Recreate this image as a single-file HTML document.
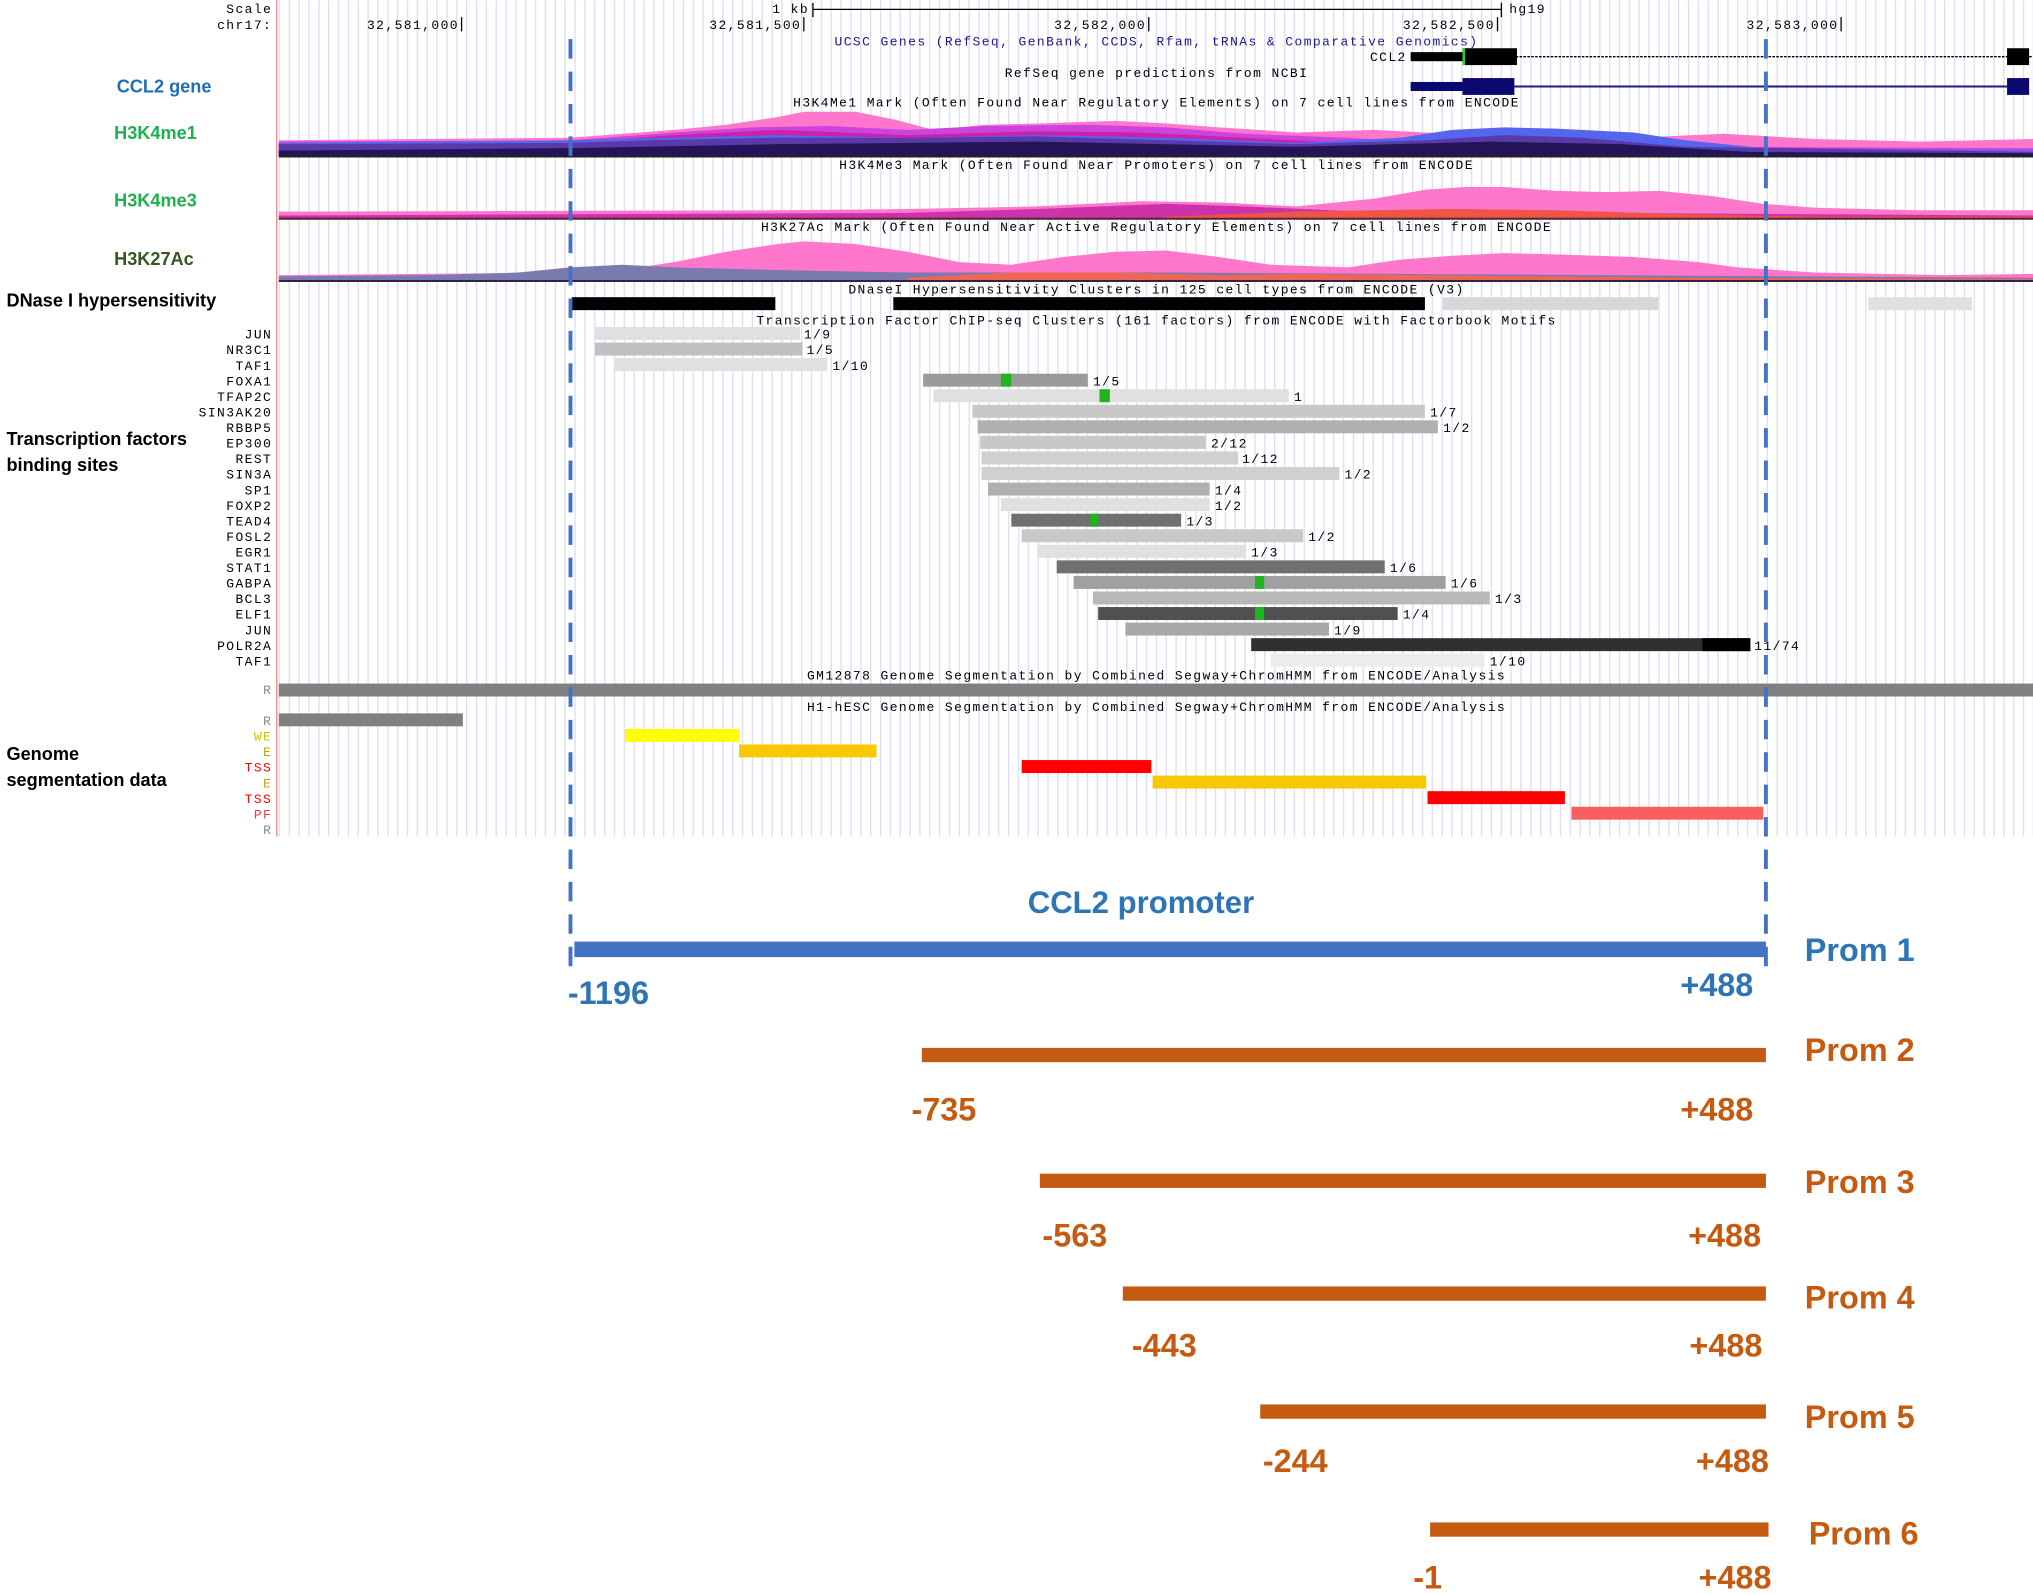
<!DOCTYPE html>
<html><head><meta charset="utf-8"><style>
html,body{margin:0;padding:0;background:#fff;}
svg{display:block;}
.m{font-family:"Liberation Mono",monospace;font-size:10px;fill:#000;letter-spacing:1.1px;}
.ml{font-family:"Liberation Mono",monospace;font-size:10px;fill:#000;text-anchor:end;letter-spacing:1.1px;}
.c{text-anchor:middle;}
.lab{font-family:"Liberation Sans",sans-serif;font-size:14px;font-weight:bold;}
.big{font-family:"Liberation Sans",sans-serif;font-weight:bold;font-size:25px;}
</style></head><body>
<svg width="2033" height="1594" viewBox="0 0 1568 1229" xmlns="http://www.w3.org/2000/svg">
<defs>
<pattern id="g" x="215" y="0" width="7.6" height="10" patternUnits="userSpaceOnUse">
<line x1="0.5" y1="0" x2="0.5" y2="10" stroke="#dcdcf4" stroke-width="1"/>
</pattern>
</defs>
<rect width="1568" height="1229" fill="#fff"/>
<rect x="215" y="0" width="1353" height="645" fill="url(#g)"/>
<line x1="213.5" y1="0" x2="213.5" y2="645" stroke="#f08080" stroke-width="1"/>

<text class="ml" x="210" y="10">Scale</text>
<text class="ml" x="210" y="22">chr17:</text>
<text class="ml" x="354" y="22">32,581,000</text><line x1="356" y1="13" x2="356" y2="24" stroke="#000"/>
<text class="ml" x="618" y="22">32,581,500</text><line x1="620" y1="13" x2="620" y2="24" stroke="#000"/>
<text class="ml" x="884" y="22">32,582,000</text><line x1="886" y1="13" x2="886" y2="24" stroke="#000"/>
<text class="ml" x="1153" y="22">32,582,500</text><line x1="1155" y1="13" x2="1155" y2="24" stroke="#000"/>
<text class="ml" x="1418" y="22">32,583,000</text><line x1="1420" y1="13" x2="1420" y2="24" stroke="#000"/>
<text class="ml" x="624" y="10">1 kb</text>
<line x1="627" y1="7" x2="1158" y2="7" stroke="#000"/><line x1="627" y1="2" x2="627" y2="13" stroke="#000"/><line x1="1158" y1="2" x2="1158" y2="13" stroke="#000"/>
<text class="m" x="1164" y="10">hg19</text>
<text class="m c" x="892" y="35" style="fill:#1a1a8c">UCSC Genes (RefSeq, GenBank, CCDS, Rfam, tRNAs &amp; Comparative Genomics)</text>

<text class="ml" x="1085" y="47">CCL2</text>
<line x1="1088" y1="43.5" x2="1568" y2="43.5" stroke="#000" stroke-width="1" stroke-dasharray="2,1"/>
<rect x="1088" y="40" width="40" height="7" fill="#000"/>
<rect x="1128" y="37" width="42" height="13" fill="#000"/>
<rect x="1128" y="37" width="2" height="13" fill="#3c3"/>
<rect x="1548" y="37" width="17" height="13" fill="#000"/>
<text class="m c" x="892" y="59">RefSeq gene predictions from NCBI</text>
<line x1="1088" y1="66.5" x2="1560" y2="66.5" stroke="#1a1a8c" stroke-width="1.5"/>
<rect x="1088" y="63" width="40" height="7" fill="#0a0a6e"/>
<rect x="1128" y="60" width="40" height="13" fill="#0a0a6e"/>
<rect x="1548" y="60" width="17" height="13" fill="#0a0a6e"/>

<text class="m c" x="892" y="82">H3K4Me1 Mark (Often Found Near Regulatory Elements) on 7 cell lines from ENCODE</text>
<polygon fill="#6fe0c0" points="300,120 440,106 480,104 520,103 560,120"/>
<polygon fill="#ff77cc" points="215,108 440,106 520,100 560,96 600,90 620,86 660,86 690,92 720,100 760,96 800,95 860,93 900,95 940,98 1000,102 1060,100 1100,102 1150,104 1200,106 1260,106 1330,103 1400,107 1480,109 1568,107 1568,120 215,120"/>
<polygon fill="#cc44dd" points="215,109 440,108 520,102 580,98 640,97 700,100 760,97 840,96 900,98 960,103 1040,106 1100,110 1200,109 1300,113 1568,114 1568,120 215,120"/>
<polygon fill="#cc22aa" points="215,111 440,110 520,104 600,100 700,104 800,101 880,102 960,106 1040,110 1568,116 1568,120 215,120"/>
<polygon fill="#5566ee" points="215,110 440,108 520,106 600,104 700,106 800,104 900,106 1000,110 1080,106 1120,100 1160,98 1200,99 1260,102 1300,108 1360,114 1568,116 1568,120 215,120"/>
<polygon fill="#5a3aa8" points="215,111 440,110 500,108 600,106 700,106 800,105 900,108 1000,111 1100,108 1160,104 1220,106 1300,113 1568,117 1568,120 215,120"/>
<polygon fill="#24145a" points="215,116 440,114 600,111 800,109 1000,113 1150,109 1250,111 1350,117 1568,118 1568,120 215,120"/>
<line x1="215" y1="120.5" x2="1568" y2="120.5" stroke="#222" stroke-width="1.5"/>

<text class="m c" x="892" y="130">H3K4Me3 Mark (Often Found Near Promoters) on 7 cell lines from ENCODE</text>
<polygon fill="#ff77cc" points="215,163 600,162 700,161 800,159 880,155 940,156 1000,159 1060,153 1100,146 1130,144 1160,144 1200,147 1240,148 1280,147 1320,151 1360,157 1400,160 1480,162 1568,162 1568,168 215,168"/>
<polygon fill="#cc33aa" points="215,166 700,164 800,161 900,157 960,159 1050,163 1568,166 1568,168 215,168"/>
<polygon fill="#ee5544" points="900,167 1000,163 1120,161 1200,162 1300,165 1400,167 1568,167 1568,168 900,168"/>
<line x1="215" y1="168.5" x2="1568" y2="168.5" stroke="#552233" stroke-width="1.5"/>

<text class="m c" x="892" y="178">H3K27Ac Mark (Often Found Near Active Regulatory Elements) on 7 cell lines from ENCODE</text>
<polygon fill="#ff77cc" points="215,212 440,210 480,208 520,202 560,194 600,188 620,186 660,188 700,194 740,202 780,204 820,198 860,194 900,193 940,198 980,204 1040,206 1080,200 1120,197 1160,195 1200,196 1260,198 1310,202 1340,206 1400,210 1500,212 1568,211 1568,216 215,216"/>
<polygon fill="#7a7ab0" points="215,213 330,212 400,210 440,206 480,204 520,206 600,208 700,210 900,210 1568,214 1568,216 215,216"/>
<polygon fill="#ee6655" points="700,214 780,210 860,210 940,212 1000,211 1100,212 1200,213 1300,214 1568,215 1568,216 700,216"/>
<line x1="215" y1="216.5" x2="1568" y2="216.5" stroke="#332244" stroke-width="1.5"/>

<text class="m c" x="892" y="226">DNaseI Hypersensitivity Clusters in 125 cell types from ENCODE (V3)</text>
<rect x="441" y="229" width="157" height="10" fill="#000"/>
<rect x="689" y="229" width="410" height="10" fill="#000"/>
<rect x="1113" y="229" width="166" height="10" fill="#d8d8d8"/>
<rect x="1441" y="229" width="80" height="10" fill="#e0e0e0"/>

<text class="m c" x="892" y="250">Transcription Factor ChIP-seq Clusters (161 factors) from ENCODE with Factorbook Motifs</text>
<g>
<text class="ml" x="210" y="261">JUN</text><rect x="459" y="252" width="158" height="10" fill="#e0e0e0"/><text class="m" x="620" y="261">1/9</text>
<text class="ml" x="210" y="273">NR3C1</text><rect x="459" y="264" width="160" height="10" fill="#c0c0c0"/><text class="m" x="622" y="273">1/5</text>
<text class="ml" x="210" y="285">TAF1</text><rect x="474" y="276" width="164" height="10" fill="#e0e0e0"/><text class="m" x="642" y="285">1/10</text>
<text class="ml" x="210" y="297">FOXA1</text><rect x="712" y="288" width="127" height="10" fill="#9a9a9a"/><rect x="772" y="288" width="8" height="10" fill="#1db41d"/><text class="m" x="843" y="297">1/5</text>
<text class="ml" x="210" y="309">TFAP2C</text><rect x="720" y="300" width="274" height="10" fill="#e0e0e0"/><rect x="848" y="300" width="8" height="10" fill="#1db41d"/><text class="m" x="998" y="309">1</text>
<text class="ml" x="210" y="321">SIN3AK20</text><rect x="750" y="312" width="349" height="10" fill="#c8c8c8"/><text class="m" x="1103" y="321">1/7</text>
<text class="ml" x="210" y="333">RBBP5</text><rect x="754" y="324" width="355" height="10" fill="#b0b0b0"/><text class="m" x="1113" y="333">1/2</text>
<text class="ml" x="210" y="345">EP300</text><rect x="756" y="336" width="174" height="10" fill="#c8c8c8"/><text class="m" x="934" y="345">2/12</text>
<text class="ml" x="210" y="357">REST</text><rect x="757" y="348" width="198" height="10" fill="#d0d0d0"/><text class="m" x="958" y="357">1/12</text>
<text class="ml" x="210" y="369">SIN3A</text><rect x="757" y="360" width="276" height="10" fill="#d0d0d0"/><text class="m" x="1037" y="369">1/2</text>
<text class="ml" x="210" y="381">SP1</text><rect x="762" y="372" width="171" height="10" fill="#b0b0b0"/><text class="m" x="937" y="381">1/4</text>
<text class="ml" x="210" y="393">FOXP2</text><rect x="772" y="384" width="161" height="10" fill="#e0e0e0"/><text class="m" x="937" y="393">1/2</text>
<text class="ml" x="210" y="405">TEAD4</text><rect x="780" y="396" width="131" height="10" fill="#707070"/><rect x="841" y="396" width="6" height="10" fill="#1db41d"/><text class="m" x="915" y="405">1/3</text>
<text class="ml" x="210" y="417">FOSL2</text><rect x="788" y="408" width="217" height="10" fill="#c8c8c8"/><text class="m" x="1009" y="417">1/2</text>
<text class="ml" x="210" y="429">EGR1</text><rect x="800" y="420" width="161" height="10" fill="#e0e0e0"/><text class="m" x="965" y="429">1/3</text>
<text class="ml" x="210" y="441">STAT1</text><rect x="815" y="432" width="253" height="10" fill="#707070"/><text class="m" x="1072" y="441">1/6</text>
<text class="ml" x="210" y="453">GABPA</text><rect x="828" y="444" width="287" height="10" fill="#a0a0a0"/><rect x="968" y="444" width="7" height="10" fill="#1db41d"/><text class="m" x="1119" y="453">1/6</text>
<text class="ml" x="210" y="465">BCL3</text><rect x="843" y="456" width="306" height="10" fill="#b8b8b8"/><text class="m" x="1153" y="465">1/3</text>
<text class="ml" x="210" y="477">ELF1</text><rect x="847" y="468" width="231" height="10" fill="#505050"/><rect x="968" y="468" width="7" height="10" fill="#1db41d"/><text class="m" x="1082" y="477">1/4</text>
<text class="ml" x="210" y="489">JUN</text><rect x="868" y="480" width="157" height="10" fill="#a8a8a8"/><text class="m" x="1029" y="489">1/9</text>
<text class="ml" x="210" y="501">POLR2A</text><rect x="965" y="492" width="385" height="10" fill="#303030"/><rect x="1313" y="492" width="37" height="10" fill="#000"/><text class="m" x="1353" y="501">11/74</text>
<text class="ml" x="210" y="513">TAF1</text><rect x="980" y="504" width="165" height="10" fill="#ececec"/><text class="m" x="1149" y="513">1/10</text>
</g>

<text class="m c" x="892" y="524">GM12878 Genome Segmentation by Combined Segway+ChromHMM from ENCODE/Analysis</text>
<text class="ml" x="210" y="535" style="fill:#888">R</text>
<rect x="215" y="527" width="1353" height="10" fill="#808080"/>
<text class="m c" x="892" y="548">H1-hESC Genome Segmentation by Combined Segway+ChromHMM from ENCODE/Analysis</text>
<text class="ml" x="210" y="559" style="fill:#888">R</text><rect x="215" y="550" width="142" height="10" fill="#808080"/>
<text class="ml" x="210" y="571" style="fill:#c8c800">WE</text><rect x="482" y="562" width="88" height="10" fill="#ffff00"/>
<text class="ml" x="210" y="583" style="fill:#c8a000">E</text><rect x="570" y="574" width="106" height="10" fill="#f8c800"/>
<text class="ml" x="210" y="595" style="fill:#f00">TSS</text><rect x="788" y="586" width="100" height="10" fill="#ff0000"/>
<text class="ml" x="210" y="607" style="fill:#c8a000">E</text><rect x="889" y="598" width="211" height="10" fill="#f8c800"/>
<text class="ml" x="210" y="619" style="fill:#f00">TSS</text><rect x="1101" y="610" width="106" height="10" fill="#ff0000"/>
<text class="ml" x="210" y="631" style="fill:#e04040">PF</text><rect x="1212" y="622" width="148" height="10" fill="#f86060"/>
<text class="ml" x="210" y="643" style="fill:#888">R</text>

<text class="lab" x="90" y="71" fill="#1f6fb8">CCL2 gene</text>
<text class="lab" x="88" y="107" fill="#1eb050">H3K4me1</text>
<text class="lab" x="88" y="159" fill="#1eb050">H3K4me3</text>
<text class="lab" x="88" y="204" fill="#375623">H3K27Ac</text>
<text class="lab" x="5" y="236" fill="#000">DNase I hypersensitivity</text>
<text class="lab" x="5" y="343" fill="#000">Transcription factors</text>
<text class="lab" x="5" y="363" fill="#000">binding sites</text>
<text class="lab" x="5" y="586" fill="#000">Genome</text>
<text class="lab" x="5" y="606" fill="#000">segmentation data</text>

<line x1="440" y1="30" x2="440" y2="745" stroke="#4472c4" stroke-width="3" stroke-dasharray="15,10"/>
<line x1="1362" y1="30" x2="1362" y2="745" stroke="#4472c4" stroke-width="3" stroke-dasharray="15,10"/>

<text class="big c" x="880" y="704" fill="#2e75b6" style="font-size:24px">CCL2 promoter</text>
<rect x="443" y="726" width="919" height="12" fill="#4472c4"/>
<text class="big" x="1392" y="741" fill="#2e75b6">Prom 1</text>
<text class="big" x="438" y="774" fill="#2e75b6">-1196</text>
<text class="big" x="1296" y="768" fill="#2e75b6">+488</text>

<g fill="#c55a11">
<rect x="711" y="808" width="651" height="11"/>
<text class="big" x="1392" y="818">Prom 2</text>
<text class="big" x="703" y="864">-735</text>
<text class="big" x="1296" y="864">+488</text>
<rect x="802" y="905" width="560" height="11"/>
<text class="big" x="1392" y="920">Prom 3</text>
<text class="big" x="804" y="961">-563</text>
<text class="big" x="1302" y="961">+488</text>
<rect x="866" y="992" width="496" height="11"/>
<text class="big" x="1392" y="1009">Prom 4</text>
<text class="big" x="873" y="1046">-443</text>
<text class="big" x="1303" y="1046">+488</text>
<rect x="972" y="1083" width="390" height="11"/>
<text class="big" x="1392" y="1101">Prom 5</text>
<text class="big" x="974" y="1135">-244</text>
<text class="big" x="1308" y="1135">+488</text>
<rect x="1103" y="1174" width="261" height="11"/>
<text class="big" x="1395" y="1191">Prom 6</text>
<text class="big" x="1090" y="1225">-1</text>
<text class="big" x="1310" y="1225">+488</text>
</g>
</svg>
</body></html>
